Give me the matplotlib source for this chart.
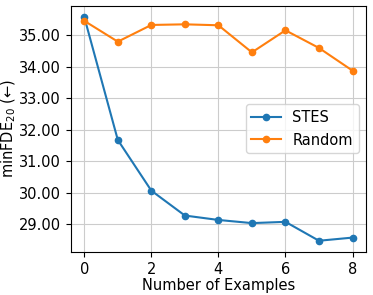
import matplotlib.pyplot as plt
from matplotlib.ticker import FormatStrFormatter, MultipleLocator

examples = [0, 1, 2, 3, 4, 5, 6, 7, 8]
stes = [35.57, 31.67, 30.06, 29.27, 29.13, 29.03, 29.07, 28.47, 28.57]
random_sel = [35.45, 34.79, 35.32, 35.34, 35.31, 34.45, 35.15, 34.59, 33.87]

plt.rcParams['font.size'] = 10.5
fig, ax = plt.subplots(figsize=(3.73, 2.95), dpi=100)
ax.plot(examples, stes, marker='o', markersize=4.5, label='STES')
ax.plot(examples, random_sel, marker='o', markersize=4.5, label='Random')
ax.set_xlabel('Number of Examples', labelpad=1)
ax.set_ylabel('minFDE$_{20}$ (←)', labelpad=0.5)
ax.yaxis.set_major_locator(MultipleLocator(1.0))
ax.yaxis.set_major_formatter(FormatStrFormatter('%.2f'))
ax.set_xticks([0, 2, 4, 6, 8])
ax.grid(True, color='#cccccc')
ax.legend(loc='center right')
fig.subplots_adjust(left=0.19, right=0.981, top=0.98, bottom=0.146)
fig.savefig('out.png', dpi=100)
